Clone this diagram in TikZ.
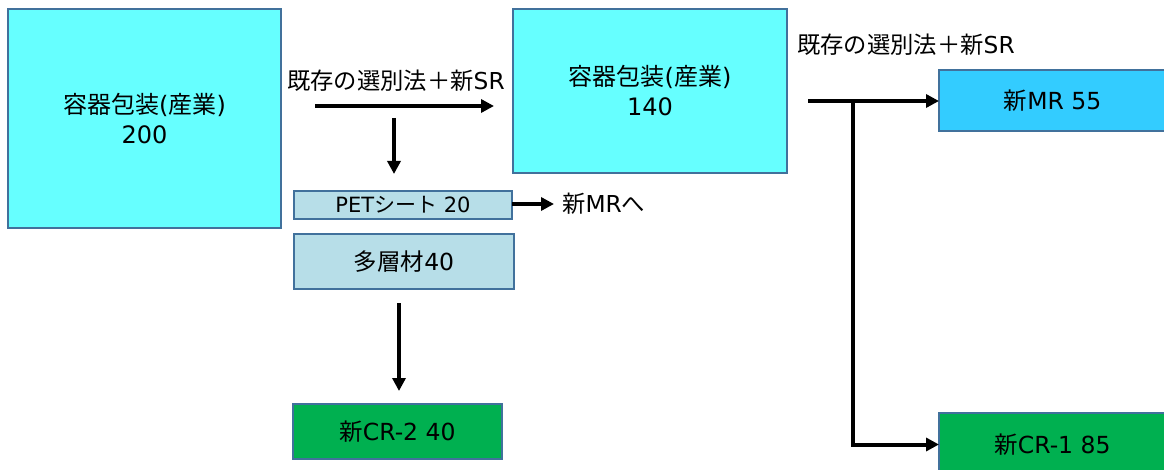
\documentclass[tikz,border=0pt]{standalone}
\usepackage{fontspec}
\setmainfont{DejaVu Sans}
\newfontfamily\jpfont{Noto Sans CJK JP}
\newcommand\jpt[1]{{\jpfont #1}}
\usetikzlibrary{arrows.meta}
\definecolor{bordc}{HTML}{41719C}
\definecolor{cyanbox}{HTML}{66FFFF}
\definecolor{paleblue}{HTML}{B7DEE8}
\definecolor{skyblue}{HTML}{33CCFF}
\definecolor{greenbox}{HTML}{00B050}
\tikzset{
  x=1pt, y=-1pt,
  boxbase/.style={draw=bordc, line width=1.5pt, inner sep=0pt, outer sep=0pt, align=center,
    font=\fontsize{23.5}{29}\selectfont, text=black},
  bigbox/.style={boxbase, fill=cyanbox, font=\fontsize{24}{30}\selectfont},
  subbox/.style={boxbase, fill=paleblue},
  mrbox/.style={boxbase, fill=skyblue},
  crbox/.style={boxbase, fill=greenbox},
  flow/.style={line width=4pt, -{Triangle[length=13pt,width=13pt]}},
  lbl/.style={font=\fontsize{23.3}{26}\selectfont, inner sep=0pt}
}
\begin{document}
\begin{tikzpicture}
\useasboundingbox (0,0) rectangle (1164,470);
\node[bigbox, minimum width=273pt, minimum height=219pt] (b1) at (144.5,118.5) {\jpt{容器包装}(\jpt{産業})\\200};
\node[bigbox, minimum width=274pt, minimum height=164pt] (b2) at (650,91) {\jpt{容器包装}(\jpt{産業})\\140};
\node[subbox, minimum width=218pt, minimum height=28pt, font=\fontsize{21}{25}\selectfont] (pet) at (403,205) {PET\jpt{シート} 20};
\node[subbox, minimum width=220pt, minimum height=55pt] (multi) at (404,261.5) {\jpt{多層材}40};
\node[crbox, minimum width=209pt, minimum height=55pt] (cr2) at (397.5,431.5) {\jpt{新}CR-2 40};
\node[mrbox, minimum width=227pt, minimum height=61pt] (mr) at (1052.5,100.5) {\jpt{新}MR 55};
\node[crbox, minimum width=227pt, minimum height=63pt] (cr1) at (1052.5,444.5) {\jpt{新}CR-1 85};

\node[lbl] (l1) at (396,81) {\jpt{既存の選別法＋新}SR};
\node[lbl] (l2) at (906,45) {\jpt{既存の選別法＋新}SR};
\node[lbl, anchor=west] (l3) at (562,204) {\jpt{新}MR\jpt{へ}};

\coordinate (a1s) at (315,106);
\coordinate (a1e) at (494,106);
\coordinate (d1s) at (394,118);
\coordinate (d1e) at (394,174);
\coordinate (d2s) at (399,303);
\coordinate (d2e) at (399,391);
\coordinate (pe) at (554,204);
\coordinate (r1s) at (808,101);
\coordinate (rj) at (853,101);

\draw[flow] (a1s) -- (a1e);
\draw[flow] (d1s) -- (d1e);
\draw[flow] (d2s) -- (d2e);
\draw[flow] (pet.east |- pe) -- (pe);
\draw[flow] (r1s) -- (mr.west |- r1s);
\draw[flow, line cap=butt] (rj) |- (cr1.west);
\end{tikzpicture}
\end{document}
